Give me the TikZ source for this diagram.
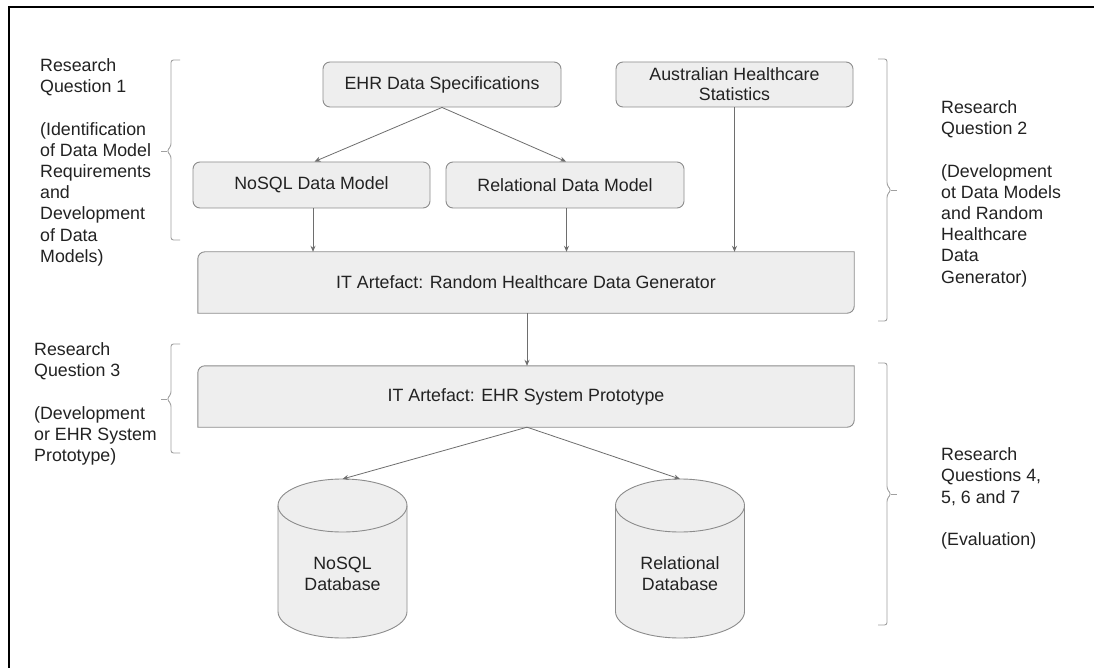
\documentclass[tikz,border=0pt]{standalone}
\usepackage{fontspec}
\setmainfont{Liberation Sans}
\usetikzlibrary{arrows.meta,backgrounds}
\definecolor{boxfill}{HTML}{EEEEEE}
\definecolor{boxline}{HTML}{8C8C8C}
\definecolor{arrowc}{HTML}{6E6E6E}
\definecolor{bracec}{HTML}{A0A0A0}
\definecolor{txt}{HTML}{222222}
\begin{document}
\begin{tikzpicture}[x=1pt,y=-1pt,
  box/.style={draw=boxline, fill=boxfill, line width=0.9pt, rounded corners=7pt, text=txt,
    font=\fontsize{17.8}{20}\selectfont, align=center, inner sep=0pt},
  bigbox/.style={inner sep=0pt, text=txt, font=\fontsize{17.8}{20}\selectfont,
    minimum width=656pt, minimum height=61pt},
  bigshape/.style={draw=boxline, fill=boxfill, line width=0.9pt},
  cyl/.style={draw=boxline, fill=boxfill, line width=0.9pt},
  dbtext/.style={inner sep=0pt, text=txt, font=\fontsize{17.8}{21}\selectfont, align=center},
  arr/.style={draw=arrowc, line width=0.8pt, -{Stealth[length=6pt,width=5pt]}},
  brace/.style={draw=bracec, line width=0.9pt, rounded corners=2.5pt},
  note/.style={text=txt, font=\fontsize{17.8}{21.2}\selectfont, align=left, inner sep=0pt, anchor=north west}]

\useasboundingbox (0,0) rectangle (1094,668);
\draw[line width=1.6pt] (9,668) -- (9,7) -- (1094,7);

% boxes
\node[box, minimum width=238pt, minimum height=45pt] (spec) at (442,84.5) {EHR Data Specifications};
\node[box, minimum width=237pt, minimum height=45pt] (aus) at (734.5,84.5) {Australian Healthcare\\Statistics};
\node[box, minimum width=237pt, minimum height=46pt] (nosqldm) at (311.5,185) {NoSQL Data Model};
\node[box, minimum width=238pt, minimum height=46pt] (reldm) at (565,185) {Relational Data Model};
\node[bigbox] (gen) at (526,282.5) {IT Artefact: Random Healthcare Data Generator};
\node[bigbox] (sp) at (526,396.5) {IT Artefact: EHR System Prototype};

\begin{scope}[on background layer]
  \fill[white] (0,0) rectangle (1094,668);
  \foreach \n in {gen,sp}{
    \filldraw[bigshape] (\n.south west) -- ([yshift=-7pt]\n.north west) arc[start angle=180,end angle=90,radius=7pt]
      -- (\n.north east) -- ([yshift=7pt]\n.south east) arc[start angle=0,end angle=-90,radius=7pt] -- cycle;
  }
\end{scope}

% cylinders
\filldraw[cyl] (278,505.5) arc[start angle=180,end angle=0,x radius=64.5pt,y radius=26.5pt]
  -- (407,611.5) arc[start angle=0,end angle=-180,x radius=64.5pt,y radius=26.5pt] -- cycle;
\draw[cyl, fill=none] (278,505.5) arc[start angle=180,end angle=360,x radius=64.5pt,y radius=26.5pt];
\coordinate (nosqltop) at (342.5,479);
\node[dbtext] (nosqldb) at (342.5,574) {NoSQL\\Database};

\filldraw[cyl] (615.5,505.5) arc[start angle=180,end angle=0,x radius=64.5pt,y radius=26.5pt]
  -- (744.5,611.5) arc[start angle=0,end angle=-180,x radius=64.5pt,y radius=26.5pt] -- cycle;
\draw[cyl, fill=none] (615.5,505.5) arc[start angle=180,end angle=360,x radius=64.5pt,y radius=26.5pt];
\coordinate (reltop) at (680,479);
\node[dbtext] (reldb) at (680,574) {Relational\\Database};

% arrows
\draw[arr] (spec.south) -- ([xshift=3pt]nosqldm.north);
\draw[arr] (spec.south) -- ([xshift=1pt]reldm.north);
\draw[arr] ([xshift=1.5pt]nosqldm.south) -- ([xshift=1.5pt]nosqldm.south |- gen.north);
\draw[arr] ([xshift=1.5pt]reldm.south) -- ([xshift=1.5pt]reldm.south |- gen.north);
\draw[arr] (aus.south) -- (aus.south |- gen.north);
\draw[arr] ([xshift=1pt]gen.south) -- ([xshift=1pt]sp.north);
\draw[arr] ([xshift=1pt]sp.south) -- (nosqltop);
\draw[arr] ([xshift=1pt]sp.south) -- (reltop);

% braces
\draw[brace] (180,60) -- (171,60) -- (171,146) -- (167,151) -- (171,156) -- (171,240) -- (180,240);
\draw[brace] (161,151) -- (167,151);
\draw[brace] (878,59) -- (887,59) -- (887,185) -- (891,190) -- (887,195) -- (887,321) -- (878,321);
\draw[brace] (891,190) -- (897,190);
\draw[brace] (180,344) -- (171,344) -- (171,394) -- (167,399) -- (171,404) -- (171,453) -- (180,453);
\draw[brace] (161,399) -- (167,399);
\draw[brace] (878,363) -- (887,363) -- (887,489) -- (891,494) -- (887,499) -- (887,625) -- (878,625);
\draw[brace] (891,494) -- (897,494);

% notes
\node[note] (rq1) at (40,58.5) {Research\\Question 1\\[21.2pt](Identification\\of Data Model\\Requirements\\and\\Development\\of Data\\Models)};
\node[note] (rq2) at (941,100.5) {Research\\Question 2\\[21.2pt](Development\\ot Data Models\\and Random\\Healthcare\\Data\\Generator)};
\node[note] (rq3) at (34,342.6) {Research\\Question 3\\[21.2pt](Development\\or EHR System\\Prototype)};
\node[note] (rq4) at (941,447.6) {Research\\Questions 4,\\5, 6 and 7\\[21.2pt](Evaluation)};
\end{tikzpicture}
\end{document}
